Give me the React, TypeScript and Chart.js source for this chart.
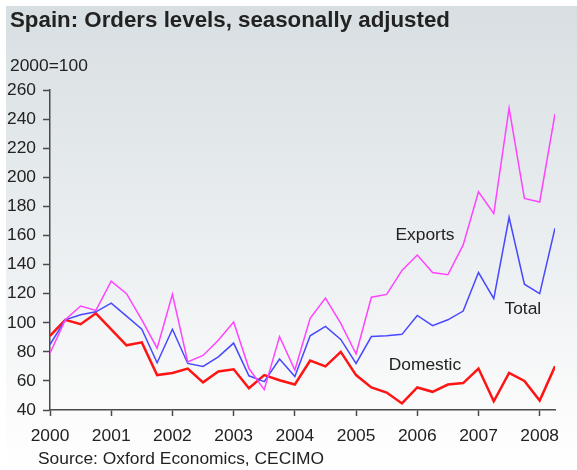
import React, { useEffect, useRef } from "react";
import { Chart, registerables } from "chart.js";

Chart.register(...registerables);

const YEARS = ["2000", "2001", "2002", "2003", "2004", "2005", "2006", "2007", "2008"];
const Y_TICKS = [40, 60, 80, 100, 120, 140, 160, 180, 200, 220, 240, 260];

// Quarterly values, 2000 Q1 .. 2008 Q2
const EXPORTS = [
  79, 102, 111.5, 108.5, 128.5, 120, 102, 82.5, 119.5, 73, 77.5, 88, 100.5, 68.5, 54, 90.5,
  67.5, 103, 117, 99.5, 78.5, 117.5, 119.5, 136, 146.5, 134.5, 133, 153.5, 190, 175, 247.5,
  185.5, 183, 243.5,
];
const TOTAL = [
  85, 102, 105.5, 107.5, 113.5, 104.5, 95.5, 72.5, 95.5, 72, 70, 76.5, 86, 63.5, 59.5, 75,
  63, 91, 97.5, 88.5, 72, 90.5, 91, 92, 105, 98, 102, 108, 134.5, 116.5, 172.5, 126.5, 120,
  165,
];
const DOMESTIC = [
  91, 102, 99, 106.5, 95.5, 84.5, 86.5, 64, 65.5, 68.5, 59, 66.5, 68, 55, 64, 60.5, 57.5, 74,
  70, 80, 64, 55.5, 52, 44.5, 55.5, 52.5, 57.5, 58.5, 68.5, 46, 65.5, 60, 46.5, 70,
];

const SERIES_LABELS = ["Exports", "Total", "Domestic"];
// label anchor: quarter index and value
const LABEL_X = [24.5, 30.9, 24.5];
const LABEL_Y = [160.5, 109.5, 70.5];

const TITLE = "Spain: Orders levels, seasonally adjusted";
const UNIT = "2000=100";
const SOURCE = "Source: Oxford Economics, CECIMO";

const FONT = "'Liberation Sans', Arial, sans-serif";
const TEXT_COLOR = "#222222";
const AXIS_COLOR = "#4a4a4a";

export default function App() {
  const ref = useRef<HTMLCanvasElement | null>(null);

  useEffect(() => {
    const canvas = ref.current;
    if (!canvas) return;

    const bgPlugin = {
      id: "bg",
      beforeDraw(chart: any) {
        const { ctx, width, height } = chart;
        ctx.save();
        ctx.fillStyle = "#ffffff";
        ctx.fillRect(0, 0, width, height);
        const g = ctx.createLinearGradient(0, 6, 0, height);
        g.addColorStop(0, "#d8dfe2");
        g.addColorStop(0.5, "#eaeef0");
        g.addColorStop(0.9, "#fcfcfc");
        g.addColorStop(1, "#ffffff");
        ctx.fillStyle = g;
        ctx.fillRect(6, 6, width - 6, height - 6);
        ctx.restore();
      },
    };

    const textPlugin = {
      id: "texts",
      afterDraw(chart: any) {
        const { ctx } = chart;
        const xs = chart.scales.x;
        const ys = chart.scales.y;
        ctx.save();
        ctx.fillStyle = TEXT_COLOR;
        ctx.textBaseline = "middle";
        ctx.textAlign = "left";
        ctx.font = `bold 22.3px ${FONT}`;
        ctx.fillText(TITLE, 10, 21);
        ctx.font = `17.4px ${FONT}`;
        ctx.fillText(UNIT, 10, 66);
        ctx.fillText(SOURCE, 38, 459);
        ctx.textAlign = "center";
        SERIES_LABELS.forEach((t, k) => {
          ctx.fillText(t, xs.getPixelForValue(LABEL_X[k]), ys.getPixelForValue(LABEL_Y[k]));
        });
        ctx.restore();
      },
    };

    const toPts = (arr: number[]) => arr.map((y, i) => ({ x: i, y }));

    const chart = new Chart(canvas, {
      type: "line",
      data: {
        datasets: [
          {
            label: "Exports",
            data: toPts(EXPORTS),
            borderColor: "#ff44ff",
            borderWidth: 1.5,
            pointRadius: 0,
            tension: 0,
          },
          {
            label: "Total",
            data: toPts(TOTAL),
            borderColor: "#4848ff",
            borderWidth: 1.5,
            pointRadius: 0,
            tension: 0,
          },
          {
            label: "Domestic",
            data: toPts(DOMESTIC),
            borderColor: "#ff1414",
            borderWidth: 2.5,
            pointRadius: 0,
            tension: 0,
          },
        ],
      },
      options: {
        animation: false,
        responsive: false,
        maintainAspectRatio: false,
        layout: { padding: { top: 90, right: 22, bottom: 0, left: 0 } },
        plugins: {
          legend: { display: false },
          tooltip: { enabled: false },
          title: { display: false },
        },
        scales: {
          x: {
            type: "linear",
            min: 0,
            max: 33,
            afterBuildTicks: (s: any) => {
              s.ticks = YEARS.map((_, k) => ({ value: k * 4 }));
            },
            afterFit: (s: any) => {
              s.height = 60;
            },
            ticks: {
              autoSkip: false,
              maxRotation: 0,
              padding: 10,
              color: TEXT_COLOR,
              font: { family: FONT, size: 17.4 },
              callback: (v: any) => YEARS[Math.round(Number(v) / 4)],
            },
            grid: {
              drawOnChartArea: false,
              drawTicks: true,
              tickLength: 6,
              tickColor: AXIS_COLOR,
              tickWidth: 1.5,
            },
            border: { display: true, color: AXIS_COLOR, width: 1.5 },
          },
          y: {
            type: "linear",
            min: 40,
            max: 260,
            afterBuildTicks: (s: any) => {
              s.ticks = Y_TICKS.map((v) => ({ value: v }));
            },
            afterFit: (s: any) => {
              s.width = 50;
            },
            ticks: {
              padding: 7,
              color: TEXT_COLOR,
              font: { family: FONT, size: 17.4 },
            },
            grid: {
              drawOnChartArea: false,
              drawTicks: true,
              tickLength: 7,
              tickColor: AXIS_COLOR,
              tickWidth: 1.5,
            },
            border: { display: true, color: AXIS_COLOR, width: 1.5 },
          },
        },
      },
      plugins: [bgPlugin, textPlugin],
    } as any);

    return () => chart.destroy();
  }, []);

  return (
    <div style={{ position: "fixed", left: 0, top: 0, width: 577, height: 470 }}>
      <canvas ref={ref} width={577} height={470} style={{ display: "block" }} />
    </div>
  );
}
